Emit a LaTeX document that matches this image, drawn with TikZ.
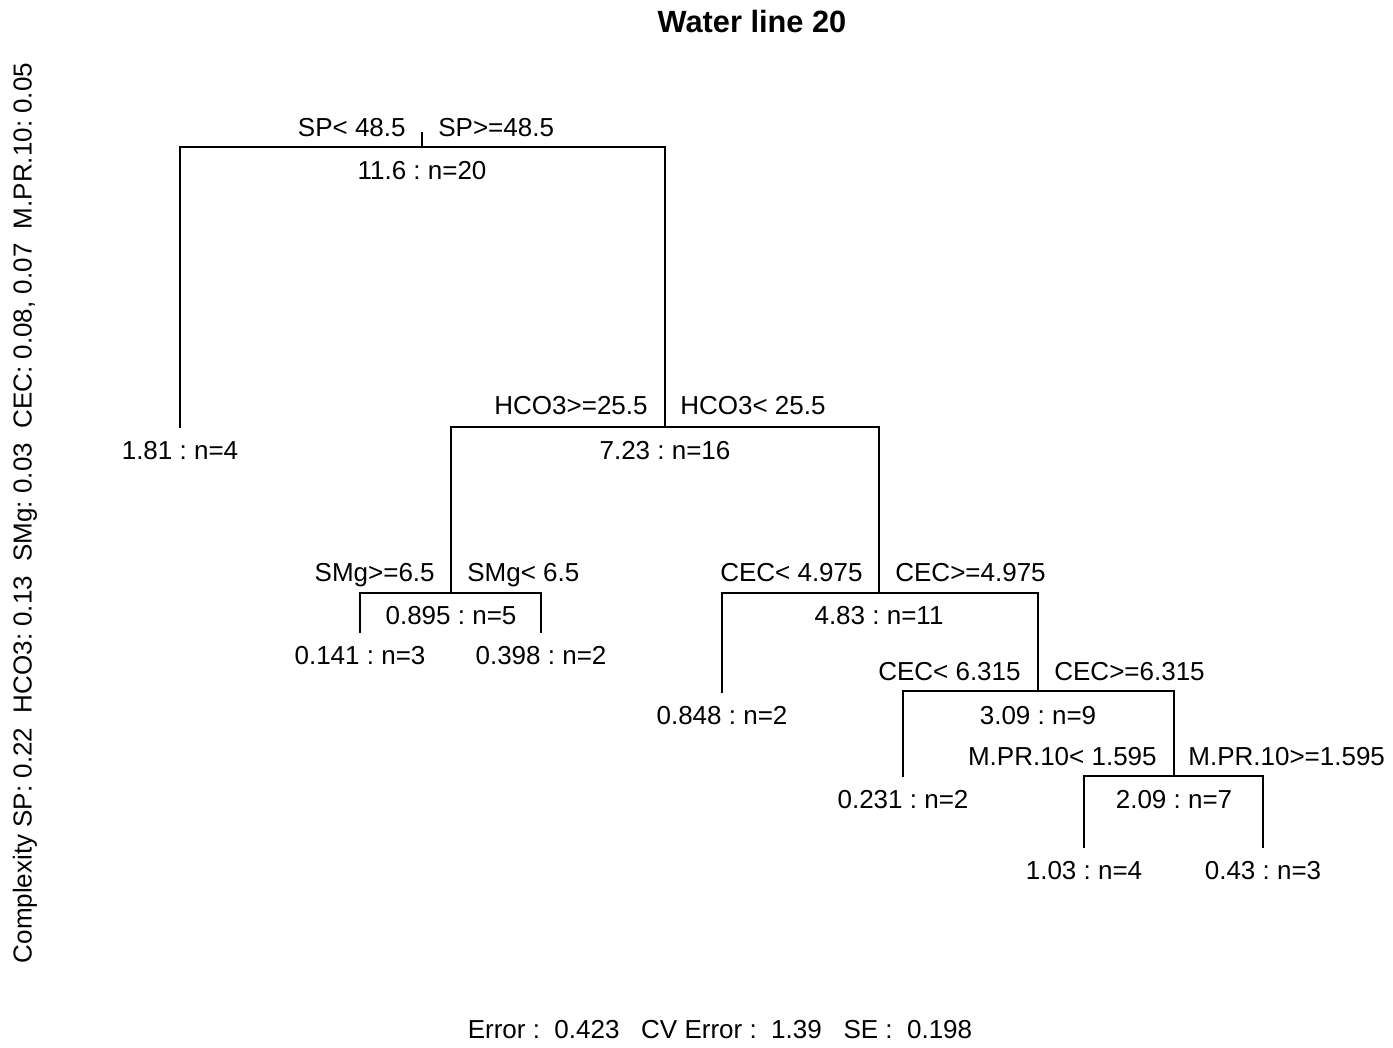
\documentclass[tikz,border=0pt]{standalone}
\usepackage{fontspec}
\setmainfont{Liberation Sans}
\usetikzlibrary{positioning}

\begin{document}
\frenchspacing
\begin{tikzpicture}[
    x=0.02cm, y=-0.02cm,
    font=\fontsize{14.8}{17}\selectfont,
    branch/.style={draw,line width=0.8pt},
    splitl/.style={anchor=base east,inner sep=0pt},
    splitr/.style={anchor=base west,inner sep=0pt},
    fit/.style={anchor=base,inner sep=0pt}
]
\useasboundingbox (0,0) rectangle (1393,1048);
% title
\node[font=\fontsize{17.5}{20}\selectfont\bfseries] (title) at (752,22) {Water line 20};
% tree nodes (bar centres and leaf ends)
\coordinate (root) at (422,147);
\coordinate (top) at (422,132);
\coordinate (l2) at (180,428);
\coordinate (n3) at (665,427);
\coordinate (n6) at (451,593);
\coordinate (l12) at (360,633);
\coordinate (l13) at (541,633);
\coordinate (n7) at (879,593);
\coordinate (l14) at (722,693);
\coordinate (n15) at (1038,691);
\coordinate (l30) at (903,777);
\coordinate (n31) at (1174,776);
\coordinate (l62) at (1084,848);
\coordinate (l63) at (1263,848);
% branches
\draw[branch] (top) -- (root);
\draw[branch] (root) -| (l2);
\draw[branch] (root) -| (n3);
\draw[branch] (n3) -| (n6);
\draw[branch] (n3) -| (n7);
\draw[branch] (n6) -| (l12);
\draw[branch] (n6) -| (l13);
\draw[branch] (n7) -| (l14);
\draw[branch] (n7) -| (n15);
\draw[branch] (n15) -| (l30);
\draw[branch] (n15) -| (n31);
\draw[branch] (n31) -| (l62);
\draw[branch] (n31) -| (l63);
% split labels
\node[splitl] (s1l) at (406,136) {SP< 48.5};
\node[splitr] (s1r) at (438,136) {SP>=48.5};
\node[splitl] (s3l) at (648,414) {HCO3>=25.5};
\node[splitr] (s3r) at (680,414) {HCO3< 25.5};
\node[splitl] (s6l) at (435,581) {SMg>=6.5};
\node[splitr] (s6r) at (467,581) {SMg< 6.5};
\node[splitl] (s7l) at (863,581) {CEC< 4.975};
\node[splitr] (s7r) at (895,581) {CEC>=4.975};
\node[splitl] (s15l) at (1021,680) {CEC< 6.315};
\node[splitr] (s15r) at (1054,680) {CEC>=6.315};
\node[splitl] (s31l) at (1157,765) {M.PR.10< 1.595};
\node[splitr] (s31r) at (1188,765) {M.PR.10>=1.595};
% fitted values
\node[fit] (v1) at (422,179) {11.6 : n=20};
\node[fit] (v2) at (180,459) {1.81 : n=4};
\node[fit] (v3) at (665,459) {7.23 : n=16};
\node[fit] (v6) at (451,624) {0.895 : n=5};
\node[fit] (v12) at (360,664) {0.141 : n=3};
\node[fit] (v13) at (541,664) {0.398 : n=2};
\node[fit] (v7) at (879,624) {4.83 : n=11};
\node[fit] (v14) at (722,724) {0.848 : n=2};
\node[fit] (v15) at (1038,724) {3.09 : n=9};
\node[fit] (v30) at (903,808) {0.231 : n=2};
\node[fit] (v31) at (1174,808) {2.09 : n=7};
\node[fit] (v62) at (1084,879) {1.03 : n=4};
\node[fit] (v63) at (1263,879) {0.43 : n=3};
% margins
\node[rotate=90] (cplx) at (25,513) {Complexity SP: 0.22\ \ HCO3: 0.13\ \ SMg: 0.03\ \ CEC: 0.08, 0.07\ \ M.PR.10: 0.05};
\node (err) at (720,1030) {Error :\ \ 0.423\ \ \ CV Error :\ \ 1.39\ \ \ SE :\ \ 0.198};
\end{tikzpicture}
\end{document}
